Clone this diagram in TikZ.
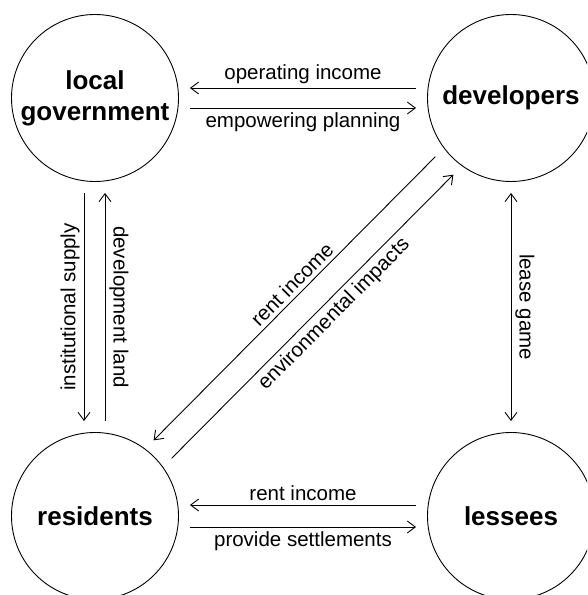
\documentclass[tikz,border=0pt]{standalone}
\usepackage{fontspec}
\setmainfont{Liberation Sans}
\usetikzlibrary{arrows.meta}

\begin{document}
\begin{tikzpicture}
[
  x = 1pt, y = 1pt,
  >= {Straight Barb[length=8pt,width=12pt]},
  actor/.style = {draw, circle, line width = 0.9pt, minimum size = 167pt, inner sep = 0pt, align = center, font = \fontsize{26}{31}\selectfont\bfseries},
  flow/.style = {line width = 0.9pt, shorten <= 11pt, shorten >= 11pt},
  flowtext/.style = {inner sep = 4pt, font = \fontsize{20.5}{24}\selectfont},
]

\clip (0,0) rectangle (587,595);

\node (gov) at (95,497) [actor] {local\\government};
\node (dev) at (511,497) [actor] {developers};
\node (res) at (95,79) [actor] {residents};
\node (les) at (511,79) [actor] {lessees};

\draw[flow, ->] ([yshift=10pt]dev.west) -- ([yshift=10pt]gov.east) node[flowtext, midway, above] {operating income};
\draw[flow, ->] ([yshift=-10pt]gov.east) -- ([yshift=-10pt]dev.west) node[flowtext, midway, below] {empowering planning};

\draw[flow, ->] ([xshift=-11pt]gov.south) -- ([xshift=-11pt]res.north) node[flowtext, midway, rotate=90, anchor=south] {institutional supply};
\draw[flow, ->] ([xshift=10pt]res.north) -- ([xshift=10pt]gov.south) node[flowtext, midway, rotate=-90, anchor=south] {development land};

\draw[flow, <-] ([shift={(-8.5,8.5)}]res.north east) -- ([shift={(-8.5,8.5)}]dev.south west) node[flowtext, pos=0.52, sloped, above] {rent income};
\draw[flow, ->] ([shift={(9.5,-9.5)}]res.north east) -- ([shift={(9.5,-9.5)}]dev.south west) node[flowtext, pos=0.54, sloped, below] {environmental impacts};

\draw[flow, <->] (dev.south) -- (les.north) node[flowtext, midway, rotate=-90, anchor=south] {lease game};

\draw[flow, ->] ([yshift=11pt]les.west) -- ([yshift=11pt]res.east) node[flowtext, midway, above] {rent income};
\draw[flow, ->] ([yshift=-11pt]res.east) -- ([yshift=-11pt]les.west) node[flowtext, midway, below] {provide settlements};

\end{tikzpicture}
\end{document}
